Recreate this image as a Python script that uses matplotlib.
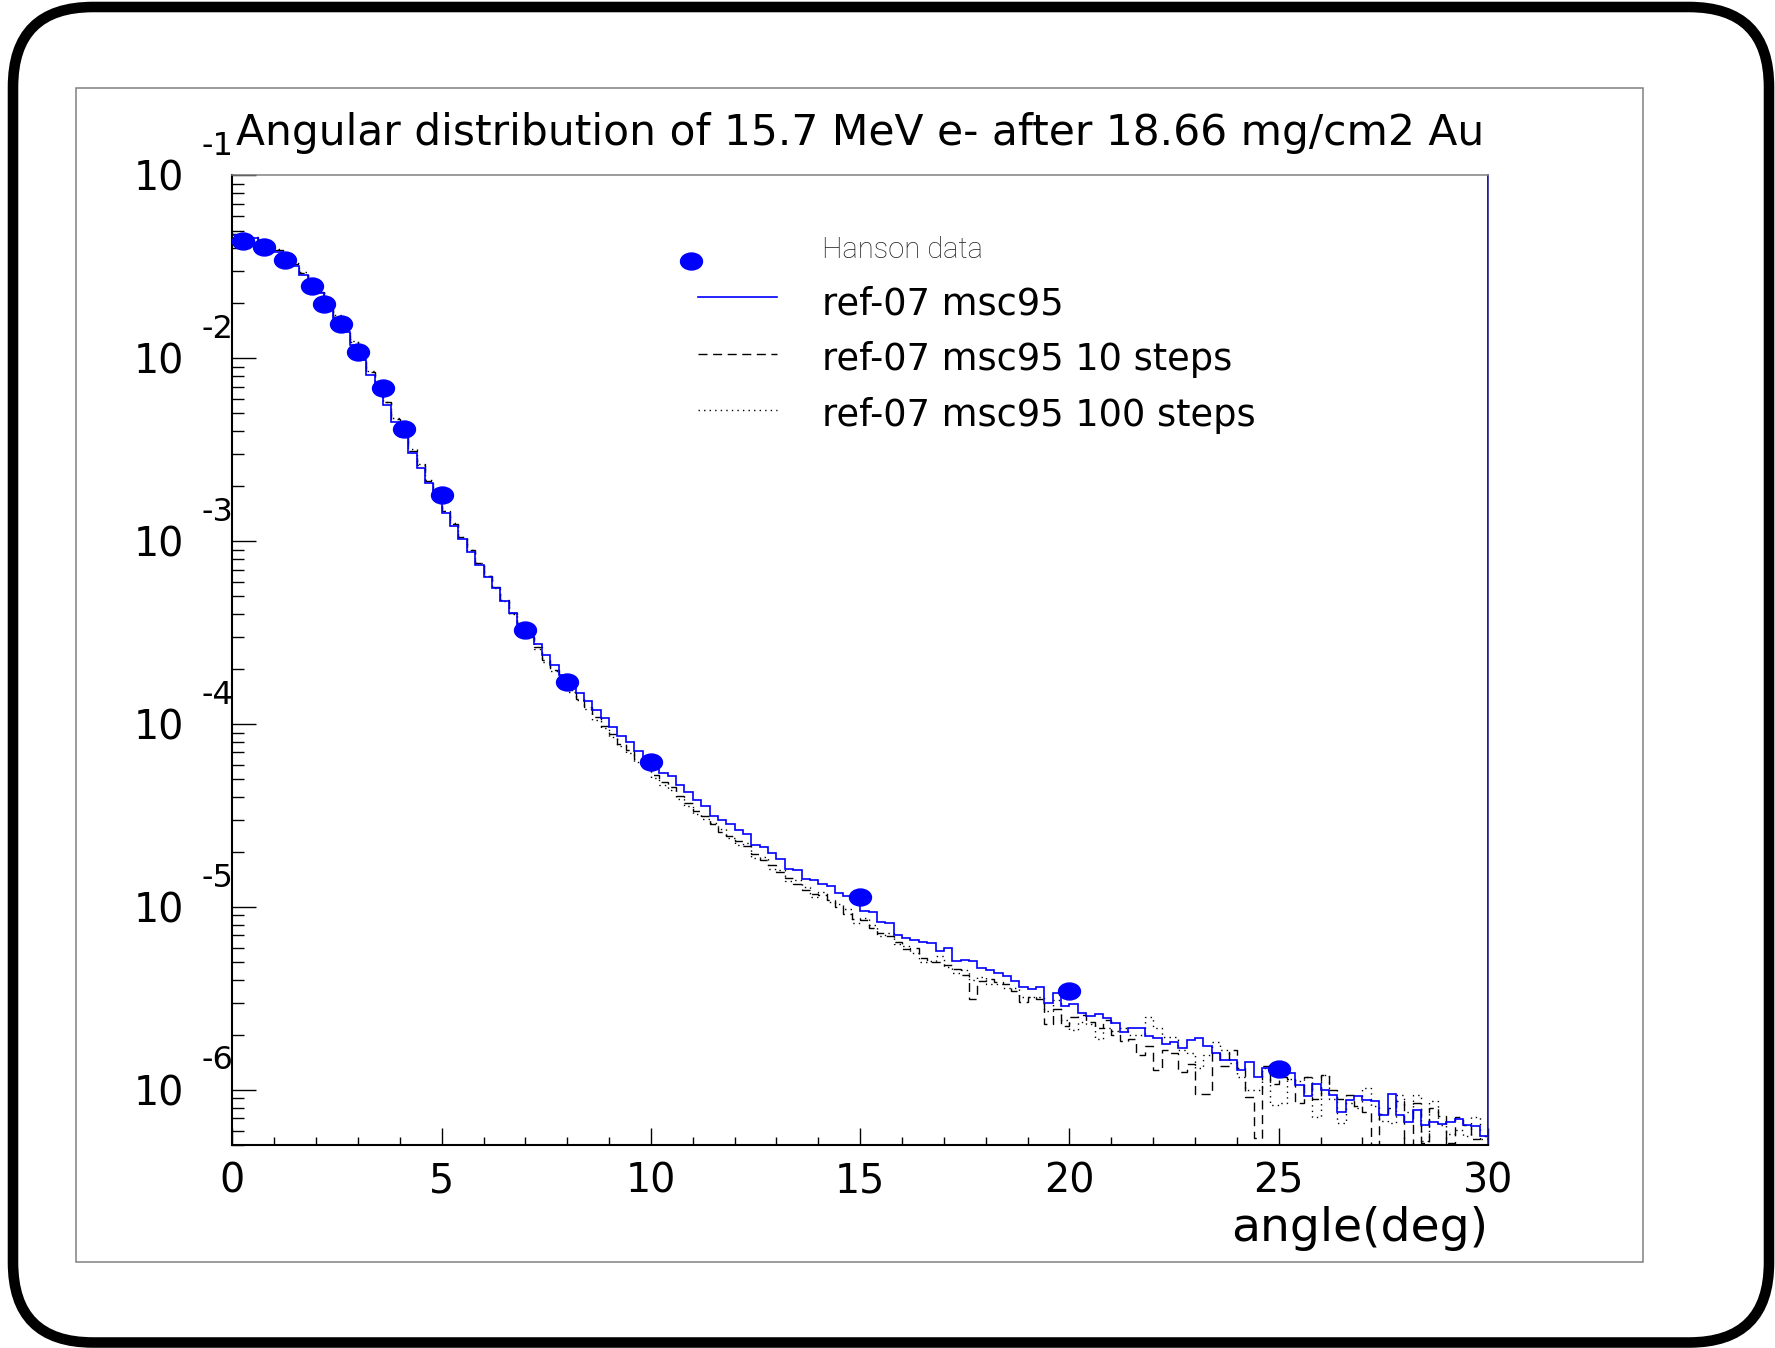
import numpy as np
from matplotlib import pyplot as plt
from matplotlib.lines import Line2D
from matplotlib.path import Path
from matplotlib.transforms import Affine2D
from matplotlib.patches import FancyBboxPatch, Rectangle
from matplotlib.legend_handler import HandlerLine2D
from matplotlib.ticker import LogLocator, MultipleLocator, NullFormatter, FixedLocator

plt.rcParams['font.family'] = ['DejaVu Sans']

# Hanson measured points (angle in deg, normalised intensity)
hanson_angle = [0.25, 0.75, 1.25, 1.9, 2.2, 2.6, 3.0, 3.6, 4.1, 5.0, 7.0, 8.0, 10.0, 15.0, 20.0, 25.0]
hanson_value = [4.37e-2, 4.05e-2, 3.45e-2, 2.49e-2, 1.99e-2, 1.54e-2, 1.08e-2, 6.87e-3,
                4.10e-3, 1.80e-3, 3.29e-4, 1.69e-4, 6.21e-5, 1.14e-5, 3.49e-6, 1.30e-6]

# histograms: 150 bins of 0.2 deg, values given as log10
bin_edges = np.linspace(0.0, 30.0, 151)

msc95_log10 = [
    -1.325, -1.331, -1.343, -1.362, -1.385, -1.416, -1.453, -1.495, -1.544, -1.598,
    -1.645, -1.705, -1.781, -1.854, -1.926, -2.008, -2.090, -2.172, -2.254, -2.346,
    -2.428, -2.518, -2.597, -2.682, -2.765, -2.845, -2.914, -2.987, -3.058, -3.127,
    -3.196, -3.256, -3.326, -3.393, -3.451, -3.512, -3.562, -3.621, -3.675, -3.730,
    -3.785, -3.827, -3.871, -3.925, -3.967, -4.013, -4.067, -4.095, -4.149, -4.180,
    -4.231, -4.267, -4.286, -4.331, -4.373, -4.417, -4.450, -4.501, -4.526, -4.546,
    -4.577, -4.601, -4.659, -4.672, -4.705, -4.737, -4.792, -4.796, -4.845, -4.854,
    -4.872, -4.883, -4.923, -4.942, -4.951, -5.024, -5.027, -5.084, -5.087, -5.155,
    -5.169, -5.179, -5.191, -5.197, -5.242, -5.224, -5.297, -5.288, -5.293, -5.335,
    -5.346, -5.361, -5.379, -5.406, -5.437, -5.448, -5.437, -5.525, -5.470, -5.539,
    -5.528, -5.579, -5.598, -5.583, -5.607, -5.634, -5.683, -5.661, -5.661, -5.707,
    -5.716, -5.747, -5.740, -5.770, -5.729, -5.716, -5.762, -5.798, -5.834, -5.834,
    -5.889, -5.847, -5.927, -5.880, -5.880, -5.898, -5.907, -5.971, -6.031, -5.967,
    -5.998, -6.026, -6.120, -6.053, -6.035, -6.053, -6.059, -6.139, -6.020, -6.139,
    -6.177, -6.112, -6.190, -6.177, -6.184, -6.175, -6.159, -6.194, -6.199, -6.254,
]

steps10_log10 = [
    -1.320, -1.327, -1.338, -1.355, -1.378, -1.407, -1.442, -1.484, -1.531, -1.584,
    -1.636, -1.693, -1.768, -1.840, -1.912, -1.995, -2.076, -2.158, -2.241, -2.331,
    -2.415, -2.504, -2.585, -2.670, -2.752, -2.835, -2.905, -2.978, -3.050, -3.120,
    -3.190, -3.252, -3.322, -3.392, -3.452, -3.525, -3.580, -3.650, -3.705, -3.758,
    -3.815, -3.862, -3.905, -3.962, -4.010, -4.052, -4.108, -4.140, -4.190, -4.228,
    -4.280, -4.318, -4.345, -4.392, -4.430, -4.475, -4.500, -4.548, -4.590, -4.610,
    -4.640, -4.668, -4.712, -4.745, -4.770, -4.810, -4.842, -4.872, -4.905, -4.930,
    -4.935, -4.962, -4.998, -5.040, -5.068, -5.070, -5.112, -5.142, -5.158, -5.190,
    -5.230, -5.225, -5.280, -5.300, -5.300, -5.318, -5.340, -5.372, -5.500, -5.405,
    -5.395, -5.41, -5.42, -5.46, -5.52, -5.49, -5.50, -5.64, -5.56, -5.65,
    -5.60, -5.59, -5.63, -5.66, -5.62, -5.70, -5.73, -5.72, -5.81, -5.76,
    -5.89, -5.78, -5.80, -5.90, -5.86, -6.02, -6.02, -5.80, -5.87, -5.78,
    -5.88, -6.04, -6.26, -5.87, -5.97, -5.93, -5.94, -6.07, -5.93, -6.05,
    -5.92, -6.00, -6.05, -6.03, -6.09, -6.12, -6.60, -6.13, -6.10, -6.06,
    -6.60, -6.07, -6.29, -6.10, -6.14, -6.29, -6.15, -6.19, -6.27, -6.25,
]

steps100_log10 = [
    -1.318, -1.325, -1.336, -1.352, -1.374, -1.402, -1.437, -1.478, -1.525, -1.578,
    -1.630, -1.688, -1.762, -1.835, -1.906, -1.990, -2.071, -2.152, -2.236, -2.326,
    -2.410, -2.498, -2.580, -2.666, -2.748, -2.832, -2.902, -2.976, -3.049, -3.120,
    -3.191, -3.254, -3.325, -3.396, -3.458, -3.530, -3.590, -3.662, -3.712, -3.770,
    -3.822, -3.870, -3.918, -3.975, -4.022, -4.068, -4.120, -4.158, -4.205, -4.240,
    -4.295, -4.330, -4.362, -4.410, -4.448, -4.490, -4.520, -4.540, -4.575, -4.625,
    -4.660, -4.650, -4.730, -4.728, -4.790, -4.795, -4.860, -4.850, -4.890, -4.945,
    -4.920, -4.975, -4.985, -5.010, -5.085, -5.060, -5.100, -5.160, -5.140, -5.200,
    -5.215, -5.250, -5.300, -5.295, -5.270, -5.330, -5.360, -5.345, -5.398, -5.385,
    -5.420, -5.42, -5.44, -5.44, -5.49, -5.49, -5.49, -5.57, -5.51, -5.62,
    -5.67, -5.63, -5.64, -5.72, -5.66, -5.68, -5.66, -5.70, -5.70, -5.60,
    -5.66, -5.71, -5.71, -5.78, -5.80, -5.88, -5.81, -5.74, -5.78, -5.85,
    -5.93, -6.00, -6.00, -5.88, -6.08, -6.07, -5.94, -5.95, -5.93, -6.15,
    -5.92, -6.05, -6.18, -6.07, -6.10, -5.99, -6.09, -6.17, -6.18, -6.03,
    -6.12, -6.03, -6.28, -6.06, -6.19, -6.24, -6.22, -6.25, -6.15, -6.27,
]

y_decades = [1e-1, 1e-2, 1e-3, 1e-4, 1e-5, 1e-6]
y_exponents = ["-1", "-2", "-3", "-4", "-5", "-6"]
x_ticks = [0, 5, 10, 15, 20, 25, 30]

title = "Angular distribution of 15.7 MeV e- after 18.66 mg/cm2 Au"
labels = ["Hanson data", "ref-07 msc95", "ref-07 msc95 10 steps", "ref-07 msc95 100 steps"]

# sizes
W, H = 1775, 1348
tick_font = 28.5
exp_font = 23
title_font = 30.5
xlabel_font = 34
legend_font = 26.5
blue = "#0000ff"

# ROOT draws the markers slightly squashed
ellipse = Path.unit_circle().transformed(Affine2D().scale(1.0, 17.0 / 22.0))


class MarkerOnLeft(HandlerLine2D):
    # single legend marker near the left end of the handle and a bit lower, like ROOT
    def get_xdata(self, legend, xdescent, ydescent, width, height, fontsize):
        m = -xdescent - 0.08 * width
        return np.array([m - 0.01, m + 0.01]), np.array([m])

    def create_artists(self, legend, orig_handle, xdescent, ydescent, width, height, fontsize, trans):
        artists = super().create_artists(legend, orig_handle, xdescent, ydescent, width, height,
                                         fontsize, trans)
        for a in artists:
            a.set_ydata(np.asarray(a.get_ydata()) - 14)
        return artists


fig = plt.figure(figsize=(W / 100, H / 100), dpi=100)

# background in pixel units: rounded outer border and pad frame
bg = fig.add_axes([0, 0, 1, 1])
bg.set_xlim(0, W)
bg.set_ylim(H, 0)
bg.axis("off")
bg.add_patch(FancyBboxPatch((13, 7), 1756, 1335.5, boxstyle="round,pad=0,rounding_size=80",
                            linewidth=7.6, edgecolor="black", facecolor="none"))
bg.add_patch(Rectangle((76, 87.5), 1566.5, 1174.5, linewidth=1.1, edgecolor="#808080", facecolor="none"))

ax = fig.add_axes([0.13093, 0.15059, 0.70738, 0.71922])

steps10 = 10.0 ** np.array(steps10_log10)
steps100 = 10.0 ** np.array(steps100_log10)
msc95 = 10.0 ** np.array(msc95_log10)

ax.stairs(steps10, bin_edges, baseline=None, color="black", linewidth=1.0, linestyle=(0, (6.5, 4)))
ax.stairs(steps100, bin_edges, baseline=None, color="black", linewidth=1.0, linestyle=(0, (1, 3)))
ax.stairs(msc95, bin_edges, baseline=1e-1, color=blue, linewidth=1.2)
ax.plot(hanson_angle, hanson_value, linestyle="none", marker=ellipse, markersize=15.8,
        color=blue, zorder=5)

ax.set_yscale("log")
ax.set_xlim(0, 30)
ax.set_ylim(5e-7, 1e-1)

# ticks inside, ROOT style
ax.xaxis.set_major_locator(FixedLocator(x_ticks))
ax.xaxis.set_minor_locator(MultipleLocator(1))
ax.yaxis.set_major_locator(FixedLocator(y_decades))
ax.yaxis.set_minor_locator(LogLocator(base=10, subs=np.arange(2, 10)))
ax.yaxis.set_minor_formatter(NullFormatter())
ax.set_xticklabels([str(t) for t in x_ticks])
ax.set_yticklabels(["10"] * len(y_decades))

ax.tick_params(axis="x", which="major", direction="in", length=12, width=1.0, labelsize=tick_font, pad=12)
ax.tick_params(axis="x", which="minor", direction="in", length=6, width=1.0)
ax.tick_params(axis="y", which="major", direction="in", length=17, width=1.0, labelsize=tick_font, pad=35)
ax.tick_params(axis="y", which="minor", direction="in", length=8.6, width=1.0)
ax.tick_params(top=False, right=False, which="both")

for name in ["left", "bottom"]:
    ax.spines[name].set_linewidth(1.5)
ax.spines["top"].set_color("#808080")
ax.spines["top"].set_linewidth(1.1)
ax.spines["right"].set_color("#1a1a90")
ax.spines["right"].set_linewidth(1.1)

# exponents of the decade labels
for val, exp in zip(y_decades, y_exponents):
    ax.annotate(exp, xy=(0, val), xycoords=("axes fraction", "data"), xytext=(-15, 29),
                textcoords="offset pixels", ha="center", va="center", fontsize=exp_font)

ax.set_title(title, fontsize=title_font, pad=22)
ax.set_xlabel("angle(deg)", fontsize=xlabel_font, loc="right", labelpad=3)

handles = [
    Line2D([], [], linestyle="none", marker=ellipse, markersize=15.8, color=blue),
    Line2D([], [], color=blue, linewidth=1.2),
    Line2D([], [], color="black", linewidth=1.0, linestyle=(0, (6.5, 4))),
    Line2D([], [], color="black", linewidth=1.0, linestyle=(0, (1, 3))),
]
leg = ax.legend(handles, labels, loc="upper left", bbox_to_anchor=(0.3931, 0.8334),
                bbox_transform=fig.transFigure, frameon=False, fontsize=legend_font,
                borderpad=0, borderaxespad=0, handlelength=2.14, handleheight=1.4,
                handletextpad=1.23, labelspacing=0.37,
                handler_map={handles[0]: MarkerOnLeft(numpoints=1)})
hanson_text = leg.get_texts()[0]
hanson_text.set_fontfamily(["Roboto", "DejaVu Sans"])
hanson_text.set_fontweight(100)
hanson_text.set_fontsize(21)
hanson_text.set_color("#222222")

fig.savefig("out.png", dpi=100)
